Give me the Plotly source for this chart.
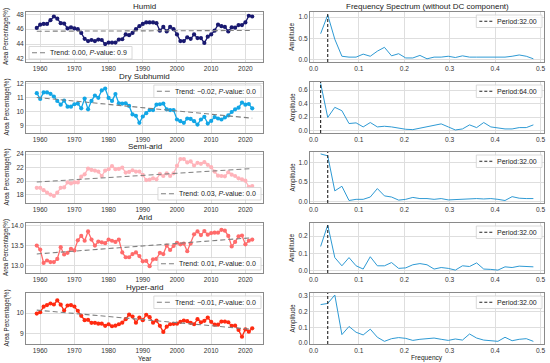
import numpy as np
import plotly.graph_objects as go
from plotly.subplots import make_subplots

years = list(range(1959, 2023))

humid = [46.16, 46.6, 46.7, 46.7, 47.2, 47.7, 47.4, 46.8, 46.75, 46.1, 46.25, 46.1, 46.0, 45.5, 44.7, 44.4,
         44.55, 44.4, 44.6, 44.55, 44.0, 44.2, 44.2, 44.2, 44.6, 44.65, 45.3, 45.2, 45.5, 46.0, 46.4, 46.7,
         46.9, 46.9, 46.9, 46.8, 45.8, 46.3, 45.7, 46.3, 46.0, 45.3, 44.4, 44.4, 44.9, 44.7, 45.3, 44.8,
         44.8, 44.15, 45.0, 45.3, 45.8, 46.6, 46.4, 46.3, 45.7, 46.25, 46.2, 46.55, 46.55, 46.9, 47.8, 47.7]
dry_subhumid = [11.33, 10.92, 11.38, 11.38, 11.28, 11.09, 10.78, 10.51, 10.8, 10.37, 10.37, 10.54, 10.59, 10.25, 10.94, 10.18,
                10.78, 11.16, 11.0, 11.52, 11.66, 10.99, 10.78, 11.26, 10.61, 10.59, 10.61, 10.42, 9.82, 9.72, 9.22, 9.67,
                9.91, 10.13, 10.13, 10.51, 10.54, 10.59, 10.18, 10.13, 10.13, 9.46, 9.34, 9.22, 9.53, 9.5, 9.34, 9.1,
                9.46, 9.65, 9.17, 9.36, 9.63, 9.53, 9.46, 9.6, 9.75, 9.99, 10.18, 10.3, 10.66, 10.51, 10.56, 10.25]
semi_arid = [19.0, 19.0, 18.65, 18.3, 18.0, 17.8, 18.3, 19.0, 19.05, 19.8, 19.65, 19.8, 19.8, 20.65, 21.0, 21.85,
             21.65, 21.55, 21.4, 20.75, 21.55, 21.75, 22.2, 21.75, 21.8, 22.0, 21.25, 21.35, 21.6, 21.4, 21.4, 20.9,
             20.15, 20.2, 20.4, 20.25, 21.05, 20.75, 21.15, 20.75, 21.15, 22.25, 23.25, 23.25, 22.75, 22.9, 22.3, 22.7,
             22.55, 22.8, 22.4, 22.05, 21.4, 20.8, 20.75, 20.7, 21.3, 20.95, 20.75, 20.4, 20.25, 20.05, 19.15, 19.25]
arid = [13.5, 13.4, 13.07, 13.13, 13.09, 13.09, 13.17, 13.46, 13.28, 13.32, 13.42, 13.38, 13.63, 13.74, 13.62, 13.85,
        13.65, 13.5, 13.6, 13.58, 13.56, 13.65, 13.62, 13.59, 13.65, 13.33, 13.21, 13.21, 13.29, 13.33, 13.24, 13.11,
        13.12, 12.99, 13.16, 13.17, 13.32, 13.29, 13.5, 13.39, 13.49, 13.57, 13.53, 13.55, 13.36, 13.55, 13.78, 13.85,
        13.76, 13.86, 13.77, 13.81, 13.82, 13.82, 13.89, 13.87, 13.74, 13.48, 13.59, 13.73, 13.75, 13.53, 13.62, 13.65]
hyper_arid = [9.98, 10.05, 10.32, 10.4, 10.48, 10.43, 10.63, 10.42, 10.13, 10.38, 10.4, 10.33, 10.12, 9.87, 9.65, 9.67,
              9.52, 9.52, 9.48, 9.48, 9.37, 9.45, 9.35, 9.38, 9.45, 9.53, 9.7, 9.93, 9.83, 9.53, 9.78, 9.65,
              9.92, 9.8, 9.53, 9.63, 9.37, 9.07, 9.33, 9.45, 9.47, 9.48, 9.57, 9.63, 9.6, 9.52, 9.45, 9.7,
              9.55, 9.62, 9.78, 9.57, 9.43, 9.43, 9.58, 9.58, 9.55, 9.37, 9.38, 9.17, 8.83, 9.2, 9.08, 9.25]

frequencies = [k / 64 for k in range(1, 32)]

amp_humid = [0.61, 1.05, 0.48, 0.08, 0.06, 0.06, 0.13, 0.08, 0.2, 0.29, 0.09, 0.14, 0.04, 0.04, 0.1, 0.02,
             0.06, 0.06, 0.08, 0.05, 0.09, 0.06, 0.06, 0.06, 0.06, 0.05, 0.06, 0.08, 0.11, 0.08, 0.02]
amp_dry = [0.70, 0.195, 0.345, 0.295, 0.105, 0.115, 0.055, 0.12, 0.055, 0.065, 0.055, 0.035, 0.02, 0.015, 0.035, 0.065,
           0.085, 0.1, 0.055, 0.01, 0.025, 0.085, 0.045, 0.12, 0.055, 0.035, 0.025, 0.025, 0.045, 0.045, 0.085]
amp_semi = [1.23, 1.18, 0.27, 0.39, 0.02, 0.05, 0.05, 0.11, 0.33, 0.14, 0.11, 0.03, 0.05, 0.1, 0.07, 0.07,
            0.05, 0.07, 0.035, 0.045, 0.05, 0.06, 0.07, 0.06, 0.07, 0.05, 0.02, 0.12, 0.08, 0.07, 0.07]
amp_arid = [0.14, 0.265, 0.075, 0.027, 0.075, 0.027, 0.008, 0.08, 0.027, 0.027, 0.046, 0.012, 0.015, 0.033, 0.04, 0.033,
            0.008, 0.017, 0.012, 0.002, 0.027, 0.023, 0.044, 0.008, 0.006, 0.002, 0.021, 0.017, 0.025, 0.021, 0.021]
amp_hyper = [0.246, 0.253, 0.307, 0.054, 0.106, 0.069, 0.052, 0.089, 0.037, 0.011, 0.028, 0.035, 0.03, 0.017, 0.024, 0.028,
             0.032, 0.024, 0.017, 0.026, 0.019, 0.058, 0.032, 0.019, 0.017, 0.011, 0.037, 0.015, 0.024, 0.028, 0.011]

names = ["Humid", "Dry Subhumid", "Semi-arid", "Arid", "Hyper-arid"]
series = [humid, dry_subhumid, semi_arid, arid, hyper_arid]
spectra = [amp_humid, amp_dry, amp_semi, amp_arid, amp_hyper]
trend_values = ["0.00", "\u22120.02", "0.03", "0.01", "\u22120.01"]
p_values = ["0.9", "0.0", "0.0", "0.0", "0.0"]
periods = [32.0, 64.0, 32.0, 32.0, 32.0]
colors = ["#191970", "#12A6E6", "#FFB3BA", "#FF6B6B", "#FF2A10"]
spec_color = "#2E9AD4"

left_yranges = [[41.6, 48.3], [8.5, 12.12], [16.75, 24.3], [12.82, 14.06], [8.47, 11.0]]
left_yticks = [[42, 44, 46, 48], [9, 10, 11, 12], [18, 20, 22, 24], [13.0, 13.5, 14.0], [9, 10]]
left_fmt = ["d", "d", "d", ".1f", "d"]
right_yranges = [[-0.055, 1.12], [-0.035, 0.72], [-0.045, 1.28], [-0.015, 0.277], [-0.006, 0.32]]
right_yticks = [[0.0, 0.5, 1.0], [0.0, 0.2, 0.4, 0.6], [0.0, 0.5, 1.0], [0.0, 0.1, 0.2], [0.0, 0.1, 0.2, 0.3]]
legend_pos = ["ll", "ur", "lr", "lr", "ur"]

W, H = 550, 363
ML, MR, MT, MB = 26, 6, 12, 19
pw, ph = W - ML - MR, H - MT - MB


def px_x(p):
    return (p - ML) / pw


def px_y(p):
    return 1 - (p - MT) / ph


CW = {'.': 0.278, ',': 0.278, ':': 0.278, ' ': 0.278, '-': 0.333, '\u2212': 0.584, 'T': 0.611, 'r': 0.333,
      'v': 0.5, 'l': 0.222, 'i': 0.222, 'P': 0.667, 't': 0.278}


def text_width(s, size):
    return sum(CW.get(c, 0.556) for c in s) * size


tops = [12, 82, 152, 223, 293]
bots = [62, 133, 203, 273, 344]
L_LEFT, L_RIGHT = 26, 263
R_LEFT, R_RIGHT = 310, 544
left_dom = [px_x(L_LEFT), px_x(L_RIGHT)]
right_dom = [px_x(R_LEFT), px_x(R_RIGHT)]

fig = make_subplots(rows=5, cols=2)
font_fam = "Liberation Sans, Arial, sans-serif"
tick_font = dict(size=6.6, color="#333", family=font_fam)
LEG_FS = 7
shapes = []
annotations = []


def add_legend(corner, left_px, right_px, top_px, bot_px, plain, html, dash, lcolor):
    tw = text_width(plain, LEG_FS)
    w = 3 + 14 + 5 + tw + 4
    h = 12.5
    if corner[1] == "l":
        x0 = left_px + 3
    else:
        x0 = right_px - 2 - w
    if corner[0] == "u":
        y0 = top_px + 3
    else:
        y0 = bot_px - 3 - h
    x1, y1 = x0 + w, y0 + h
    yc = (y0 + y1) / 2
    shapes.append(dict(type="rect", xref="paper", yref="paper", x0=px_x(x0), x1=px_x(x1), y0=px_y(y1), y1=px_y(y0),
                       fillcolor="rgba(255,255,255,0.8)", line=dict(color="#d0d0d0", width=0.8), layer="above"))
    shapes.append(dict(type="line", xref="paper", yref="paper", x0=px_x(x0 + 3), x1=px_x(x0 + 17), y0=px_y(yc),
                       y1=px_y(yc), line=dict(color=lcolor, width=1.1, dash=dash), layer="above"))
    annotations.append(dict(text=html, x=px_x(x0 + 20), y=px_y(yc), xref="paper", yref="paper", xanchor="left",
                            yanchor="middle", showarrow=False, borderpad=0,
                            font=dict(size=LEG_FS, family=font_fam, color="#222")))


x_arr = np.array(years, dtype=float)
for i in range(5):
    r = i + 1
    y = np.array(series[i])
    fig.add_trace(go.Scatter(x=years, y=series[i], mode="lines+markers",
                             line=dict(color=colors[i], width=1.3),
                             marker=dict(color=colors[i], size=4.2),
                             showlegend=False), row=r, col=1)
    slope, intercept = np.polyfit(x_arr, y, 1)
    fit = (slope * x_arr + intercept).tolist()
    fig.add_trace(go.Scatter(x=years, y=fit, mode="lines",
                             line=dict(color="#7f7f7f", width=1.1, dash="5px,3px"),
                             showlegend=False), row=r, col=1)
    fig.add_trace(go.Scatter(x=frequencies, y=spectra[i], mode="lines",
                             line=dict(color=spec_color, width=1.0),
                             showlegend=False), row=r, col=2)
    ax_r = 2 * i + 2
    shapes.append(dict(type="line", xref=f"x{ax_r}", yref=f"y{ax_r} domain",
                       x0=1 / periods[i], x1=1 / periods[i], y0=0, y1=1,
                       line=dict(color="#222", width=1.1, dash="3px,2px")))
    ytop, ybot = px_y(tops[i]), px_y(bots[i])
    dom = [ybot, ytop]
    fig.update_yaxes(domain=dom, range=left_yranges[i], tickvals=left_yticks[i],
                     tickformat=left_fmt[i], row=r, col=1)
    fig.update_yaxes(domain=dom, range=right_yranges[i], tickvals=right_yticks[i],
                     tickformat=".1f", row=r, col=2)
    fig.update_xaxes(domain=left_dom, range=[1955.85, 2025.15], tickvals=[1960, 1970, 1980, 1990, 2000, 2010, 2020],
                     row=r, col=1)
    fig.update_xaxes(domain=right_dom, range=[-0.0078, 0.5078], tickvals=[0.0, 0.1, 0.2, 0.3, 0.4, 0.5],
                     tickformat=".1f", row=r, col=2)
    plain = f"Trend: {trend_values[i]}, P-value: {p_values[i]}"
    html = f"Trend: {trend_values[i]}, <i>P</i>-value: {p_values[i]}"
    add_legend(legend_pos[i], L_LEFT, L_RIGHT, tops[i], bots[i], plain, html, "5px,3px", "#7f7f7f")
    ptxt = f"Period:{periods[i]:.2f}"
    add_legend("ur", R_LEFT, R_RIGHT, tops[i], bots[i], ptxt, ptxt, "3px,2px", "#222")
    annotations.append(dict(text=names[i], x=(left_dom[0] + left_dom[1]) / 2, y=ytop, xref="paper", yref="paper",
                            xanchor="center", yanchor="bottom", yshift=0, borderpad=0, showarrow=False,
                            font=dict(size=8, family=font_fam, color="#222")))
    annotations.append(dict(text="Area Percentage(%)", x=px_x(6), y=(ytop + ybot) / 2, xref="paper", yref="paper",
                            xanchor="center", yanchor="middle", textangle=-90, showarrow=False,
                            font=dict(size=6.3, family=font_fam, color="#222")))
    annotations.append(dict(text="Amplitude", x=px_x(292), y=(ytop + ybot) / 2, xref="paper", yref="paper",
                            xanchor="center", yanchor="middle", textangle=-90, showarrow=False,
                            font=dict(size=6.3, family=font_fam, color="#222")))

annotations.append(dict(text="Frequency Spectrum (without DC component)", x=(right_dom[0] + right_dom[1]) / 2,
                        y=px_y(tops[0]), xref="paper", yref="paper", xanchor="center", yanchor="bottom",
                        yshift=0, borderpad=0,
                        showarrow=False, font=dict(size=8, family=font_fam, color="#222")))
annotations.append(dict(text="Year", x=(left_dom[0] + left_dom[1]) / 2, y=px_y(358), xref="paper", yref="paper",
                        xanchor="center", yanchor="middle", showarrow=False,
                        font=dict(size=6.6, family=font_fam, color="#222")))
annotations.append(dict(text="Frequency", x=(right_dom[0] + right_dom[1]) / 2, y=px_y(358), xref="paper",
                        yref="paper", xanchor="center", yanchor="middle", showarrow=False,
                        font=dict(size=6.6, family=font_fam, color="#222")))

fig.update_xaxes(showgrid=True, gridcolor="#dedede", gridwidth=0.8, showline=True, linecolor="#8a8a8a",
                 linewidth=0.8, mirror=True, zeroline=False, tickfont=tick_font, ticks="")
fig.update_yaxes(showgrid=True, gridcolor="#dedede", gridwidth=0.8, showline=True, linecolor="#8a8a8a",
                 linewidth=0.8, mirror=True, zeroline=False, tickfont=tick_font, ticks="")

fig.update_layout(width=W, height=H, margin=dict(l=ML, r=MR, t=MT, b=MB),
                  paper_bgcolor="white", plot_bgcolor="white", shapes=shapes, annotations=annotations,
                  showlegend=False)
fig.write_html("out.html", config={"displayModeBar": False},
               post_script="document.body.style.margin='0px';")
